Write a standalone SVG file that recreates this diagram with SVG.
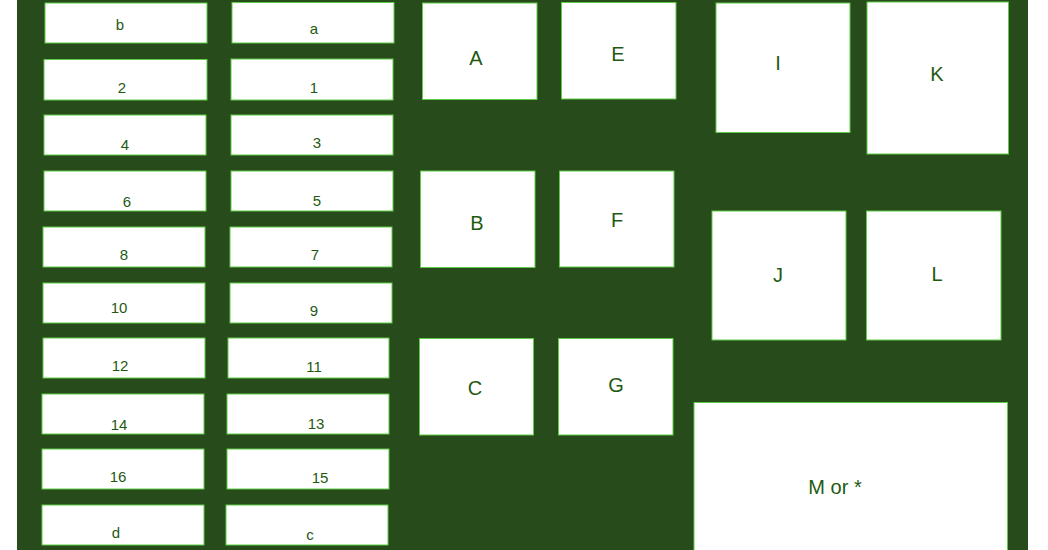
<svg xmlns="http://www.w3.org/2000/svg" width="1048" height="550" viewBox="0 0 1048 550">
<style>
.n rect{fill:#ffffff;stroke:#5ccc44;stroke-width:1}
.s{font-family:"Liberation Sans",Arial,sans-serif;font-size:15px;fill:#1f5a12;text-anchor:middle}
.l{font-family:"Liberation Sans",Arial,sans-serif;font-size:20px;fill:#1f5a12;text-anchor:middle}
</style>
<rect x="0" y="0" width="1048" height="550" fill="#ffffff"/>
<rect x="17" y="0" width="1011" height="550" fill="#274b1a"/>
<g id="connectors"/>
<g id="n-b" class="n"><rect x="45" y="3" width="162" height="40"/><text class="s" x="120" y="30">b</text></g>
<g id="n-2" class="n"><rect x="44" y="59.5" width="163" height="40.5"/><text class="s" x="122" y="93">2</text></g>
<g id="n-4" class="n"><rect x="44" y="115" width="162" height="40"/><text class="s" x="125" y="150">4</text></g>
<g id="n-6" class="n"><rect x="44" y="171" width="162" height="40"/><text class="s" x="127" y="207">6</text></g>
<g id="n-8" class="n"><rect x="43" y="227" width="162" height="40"/><text class="s" x="124" y="260">8</text></g>
<g id="n-10" class="n"><rect x="43" y="283" width="162" height="40"/><text class="s" x="119" y="313">10</text></g>
<g id="n-12" class="n"><rect x="43" y="338" width="162" height="40"/><text class="s" x="120" y="371">12</text></g>
<g id="n-14" class="n"><rect x="42" y="394" width="162" height="40"/><text class="s" x="119" y="430">14</text></g>
<g id="n-16" class="n"><rect x="42" y="449" width="162" height="40"/><text class="s" x="118" y="482">16</text></g>
<g id="n-d" class="n"><rect x="42" y="505" width="162" height="40"/><text class="s" x="116" y="538">d</text></g>
<g id="n-a" class="n"><rect x="232" y="2.5" width="162" height="40.5"/><text class="s" x="314" y="34">a</text></g>
<g id="n-1" class="n"><rect x="231" y="59" width="162" height="41"/><text class="s" x="314" y="93">1</text></g>
<g id="n-3" class="n"><rect x="231" y="115" width="162" height="40"/><text class="s" x="317" y="148">3</text></g>
<g id="n-5" class="n"><rect x="231" y="171" width="162" height="40"/><text class="s" x="317" y="206">5</text></g>
<g id="n-7" class="n"><rect x="230" y="227" width="162" height="40"/><text class="s" x="315" y="260">7</text></g>
<g id="n-9" class="n"><rect x="230" y="283" width="162" height="40"/><text class="s" x="314" y="316">9</text></g>
<g id="n-11" class="n"><rect x="228" y="338" width="161" height="40"/><text class="s" x="314" y="372">11</text></g>
<g id="n-13" class="n"><rect x="227" y="394" width="162" height="40"/><text class="s" x="316" y="429">13</text></g>
<g id="n-15" class="n"><rect x="227" y="449" width="162" height="40"/><text class="s" x="320" y="483">15</text></g>
<g id="n-c" class="n"><rect x="226" y="505" width="162" height="40"/><text class="s" x="310" y="540">c</text></g>
<g id="n-A" class="n"><rect x="422.5" y="3" width="114.5" height="96.5"/><text class="l" x="476" y="65">A</text></g>
<g id="n-E" class="n"><rect x="561.5" y="2.5" width="114.5" height="96.5"/><text class="l" x="618" y="61">E</text></g>
<g id="n-B" class="n"><rect x="420.5" y="171" width="114.5" height="96.5"/><text class="l" x="477" y="230">B</text></g>
<g id="n-F" class="n"><rect x="559.5" y="171" width="114.5" height="96"/><text class="l" x="617" y="227">F</text></g>
<g id="n-C" class="n"><rect x="419.5" y="338.5" width="114" height="96.5"/><text class="l" x="475" y="395">C</text></g>
<g id="n-G" class="n"><rect x="558.5" y="338.5" width="114.5" height="96.5"/><text class="l" x="616" y="392">G</text></g>
<g id="n-I" class="n"><rect x="716" y="3" width="134" height="129.5"/><text class="l" x="778" y="70">I</text></g>
<g id="n-K" class="n"><rect x="867" y="2" width="141.5" height="152"/><text class="l" x="937" y="81">K</text></g>
<g id="n-J" class="n"><rect x="712" y="211" width="134" height="129"/><text class="l" x="778" y="282">J</text></g>
<g id="n-L" class="n"><rect x="866.5" y="211" width="134.5" height="129"/><text class="l" x="937" y="281">L</text></g>
<g id="n-M" class="n"><rect x="694" y="402.5" width="313.5" height="152"/><text class="l" x="835" y="494">M or *</text></g>
</svg>
